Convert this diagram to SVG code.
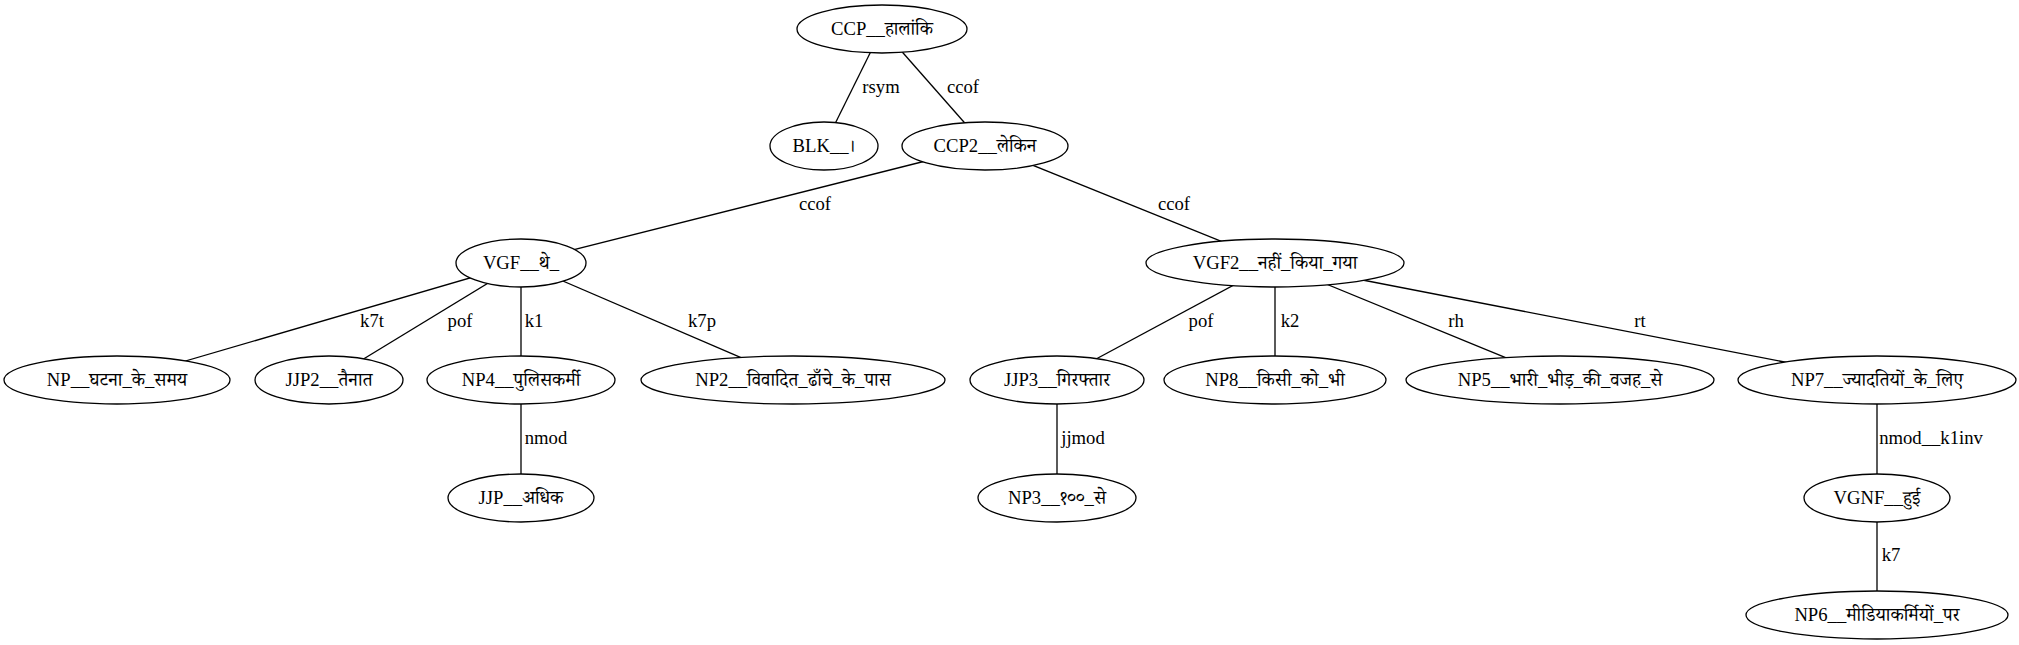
<svg xmlns="http://www.w3.org/2000/svg" width="2019" height="645" viewBox="0 0 2019 645">
<style>
.n ellipse{fill:#fff;stroke:#000;stroke-width:1.3}
.n text,.lbl text{font-family:"Liberation Serif","Noto Serif Devanagari","Noto Sans Devanagari","FreeSerif",serif;font-size:18.67px;fill:#000}
.n text{text-anchor:middle}
.lbl text{text-anchor:middle}
#edges line{stroke:#000;stroke-width:1.3}
</style>
<rect width="2019" height="645" fill="#fff"/>
<g id="edges">
<line x1="882" y1="29" x2="824" y2="146"/>
<line x1="882" y1="29" x2="985" y2="146"/>
<line x1="985" y1="146" x2="521" y2="263"/>
<line x1="985" y1="146" x2="1275" y2="263"/>
<line x1="521" y1="263" x2="117" y2="381"/>
<line x1="521" y1="263" x2="329" y2="380"/>
<line x1="521" y1="263" x2="521" y2="380"/>
<line x1="521" y1="263" x2="793" y2="380"/>
<line x1="521" y1="380" x2="521" y2="498"/>
<line x1="1275" y1="263" x2="1057" y2="380"/>
<line x1="1275" y1="263" x2="1275" y2="380"/>
<line x1="1275" y1="263" x2="1560" y2="380"/>
<line x1="1275" y1="263" x2="1877" y2="380"/>
<line x1="1057" y1="380" x2="1057" y2="498"/>
<line x1="1877" y1="380" x2="1877" y2="498"/>
<line x1="1877" y1="498" x2="1877" y2="615"/>
</g>
<g class="lbl" id="edge-labels">
<text x="881" y="93">rsym</text>
<text x="963" y="93">ccof</text>
<text x="815" y="210">ccof</text>
<text x="1174" y="210">ccof</text>
<text x="372" y="327">k7t</text>
<text x="460" y="327">pof</text>
<text x="534" y="327">k1</text>
<text x="702" y="327">k7p</text>
<text x="1201" y="327">pof</text>
<text x="1290" y="327">k2</text>
<text x="1456" y="327">rh</text>
<text x="1640" y="327">rt</text>
<text x="546" y="444">nmod</text>
<text x="1083" y="444">jjmod</text>
<text x="1931" y="444">nmod__k1inv</text>
<text x="1891" y="561">k7</text>
</g>
<g class="n" id="n-ccp"><ellipse cx="882" cy="29" rx="85" ry="24"/><text x="882" y="35">CCP__हालांकि</text></g>
<g class="n" id="n-blk"><ellipse cx="824" cy="146" rx="54" ry="24"/><text x="824" y="152">BLK__।</text></g>
<g class="n" id="n-ccp2"><ellipse cx="985" cy="146" rx="83" ry="24"/><text x="985" y="152">CCP2__लेकिन</text></g>
<g class="n" id="n-vgf"><ellipse cx="521" cy="263" rx="65" ry="24"/><text x="521" y="269">VGF__थे_</text></g>
<g class="n" id="n-vgf2"><ellipse cx="1275" cy="263" rx="129" ry="24"/><text x="1275" y="269">VGF2__नहीं_किया_गया</text></g>
<g class="n" id="n-np"><ellipse cx="117" cy="380" rx="113" ry="24"/><text x="117" y="386">NP__घटना_के_समय</text></g>
<g class="n" id="n-jjp2"><ellipse cx="329" cy="380" rx="74" ry="24"/><text x="329" y="386">JJP2__तैनात</text></g>
<g class="n" id="n-np4"><ellipse cx="521" cy="380" rx="94" ry="24"/><text x="521" y="386">NP4__पुलिसकर्मी</text></g>
<g class="n" id="n-np2"><ellipse cx="793" cy="380" rx="152" ry="24"/><text x="793" y="386">NP2__विवादित_ढाँचे_के_पास</text></g>
<g class="n" id="n-jjp3"><ellipse cx="1057" cy="380" rx="87" ry="24"/><text x="1057" y="386">JJP3__गिरफ्तार</text></g>
<g class="n" id="n-np8"><ellipse cx="1275" cy="380" rx="111" ry="24"/><text x="1275" y="386">NP8__किसी_को_भी</text></g>
<g class="n" id="n-np5"><ellipse cx="1560" cy="380" rx="154" ry="24"/><text x="1560" y="386">NP5__भारी_भीड़_की_वजह_से</text></g>
<g class="n" id="n-np7"><ellipse cx="1877" cy="380" rx="139" ry="24"/><text x="1877" y="386">NP7__ज्यादतियों_के_लिए</text></g>
<g class="n" id="n-jjp"><ellipse cx="521" cy="498" rx="73" ry="24"/><text x="521" y="504">JJP__अधिक</text></g>
<g class="n" id="n-np3"><ellipse cx="1057" cy="498" rx="79" ry="24"/><text x="1057" y="504">NP3__१००_से</text></g>
<g class="n" id="n-vgnf"><ellipse cx="1877" cy="498" rx="73" ry="24"/><text x="1877" y="504">VGNF__हुई</text></g>
<g class="n" id="n-np6"><ellipse cx="1877" cy="615" rx="131" ry="24"/><text x="1877" y="621">NP6__मीडियाकर्मियों_पर</text></g>
</svg>
